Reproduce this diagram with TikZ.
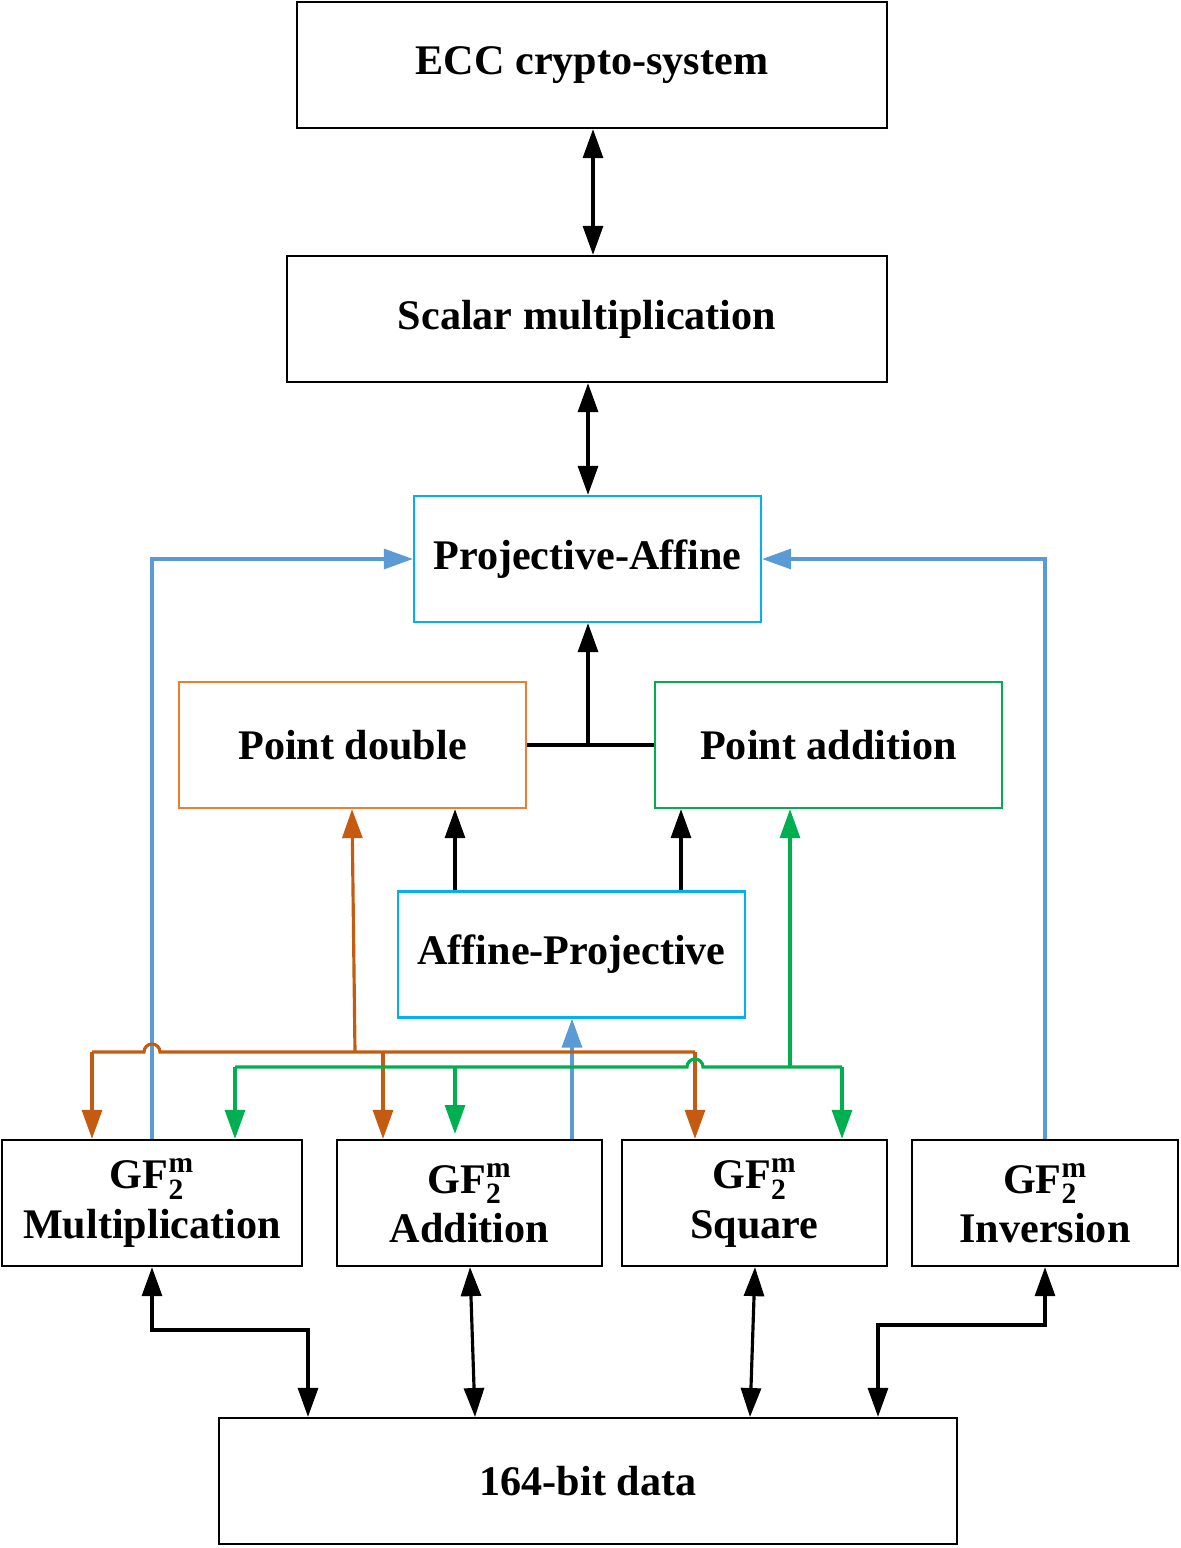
\documentclass[tikz,border=0pt]{standalone}
\usepackage{fontspec}
\setmainfont{Liberation Serif}
\usetikzlibrary{arrows.meta}
\begin{document}
\begin{tikzpicture}[x=0.02cm,y=-0.02cm,
  box/.style={draw,line width=1.3pt,minimum width=#1*0.02cm,minimum height=126*0.02cm,inner sep=0pt,font=\fontsize{24}{26}\selectfont\bfseries,align=center},
  tip/.style={-{Triangle[length=0.58cm,width=0.4cm]}},
  dtip/.style={{Triangle[length=0.58cm,width=0.4cm]}-{Triangle[length=0.58cm,width=0.4cm]}},
  ln/.style={line width=1.8pt}]
\definecolor{cyanb}{RGB}{0,176,240}
\definecolor{orn}{RGB}{237,125,49}
\definecolor{ornd}{RGB}{197,90,17}
\definecolor{grn}{RGB}{0,176,80}
\definecolor{blu}{RGB}{91,155,213}
\useasboundingbox (0,0) rectangle (1180,1548);
\node[box=590] (ecc) at (592,65) {ECC crypto-system};
\node[box=600] (sc) at (587,319) {Scalar multiplication};
\node[box=347,draw=cyanb] (pa) at (587.5,559) {Projective-Affine};
\node[box=347,draw=orn] (pd) at (352.5,745) {Point double};
\node[box=347,draw=grn] (pad) at (828.5,745) {Point addition};
\node[box=347,draw=cyanb] (ap) at (571.5,954.5) {Affine-Projective};
\def\GF{GF$_{\mathbf{2}}^{\mathbf{m}}$}
\node[box=300] (mul) at (152,1203) {\GF\\[2pt]Multiplication};
\node[box=265] (add) at (469.5,1203) {\GF\\[2pt]Addition};
\node[box=265] (sq) at (754.5,1203) {\GF\\[2pt]Square};
\node[box=266] (inv) at (1045,1203) {\GF\\[2pt]Inversion};
\node[box=738] (data) at (588,1481) {164-bit data};
% top arrows
\draw[ln,dtip] (ecc.south -| 593,0) -- (sc.north -| 593,0);
\draw[ln,dtip] (sc.south -| 588,0) -- (pa.north -| 588,0);
\draw[ln] (pd.east) -- (pad.west);
\coordinate (j) at (588,745);
\draw[ln,tip] (j) -- (pa.south -| j);
\draw[ln,tip] (ap.north -| 455,0) -- (pd.south -| 455,0);
\draw[ln,tip] (ap.north -| 681,0) -- (pad.south -| 681,0);
% blue
\draw[ln,blu,tip] (mul.north) |- (pa.west);
\draw[ln,blu,tip] (inv.north) |- (pa.east);
\draw[ln,blu,tip] (add.north -| 572,0) -- (ap.south -| 572,0);
% orange
\coordinate (o) at (355,1052);
\draw[ln,ornd,tip] (o) -- (pd.south -| 352,0);
\draw[ln,ornd] (92,1052) -- (144,1052) arc[start angle=180,end angle=0,radius=0.16cm] -- (695,1052);
\draw[ln,ornd,tip] (92,1052) -- (mul.north -| 92,0);
\draw[ln,ornd,tip] (383,1052) -- (add.north -| 383,0);
\draw[ln,ornd,tip] (695,1052) -- (sq.north -| 695,0);
% green
\draw[ln,grn] (235,1067) -- (687,1067) arc[start angle=180,end angle=0,radius=0.16cm] -- (842,1067);
\draw[ln,grn,tip] (790,1067) -- (pad.south -| 790,0);
\draw[ln,grn,tip] (235,1067) -- (mul.north -| 235,0);
\draw[ln,grn,tip] (455,1067) -- (455,1134);
\draw[ln,grn,tip] (842,1067) -- (sq.north -| 842,0);
% bottom
\draw[ln,dtip] (mul.south) -- (152,1330) -- (308,1330) -- (data.north -| 308,0);
\draw[ln,dtip] (add.south -| 470,0) -- (475,1417);
\draw[ln,dtip] (sq.south -| 755,0) -- (750,1417);
\draw[ln,dtip] (inv.south) -- (1045,1325) -- (878,1325) -- (data.north -| 878,0);
\end{tikzpicture}
\end{document}
